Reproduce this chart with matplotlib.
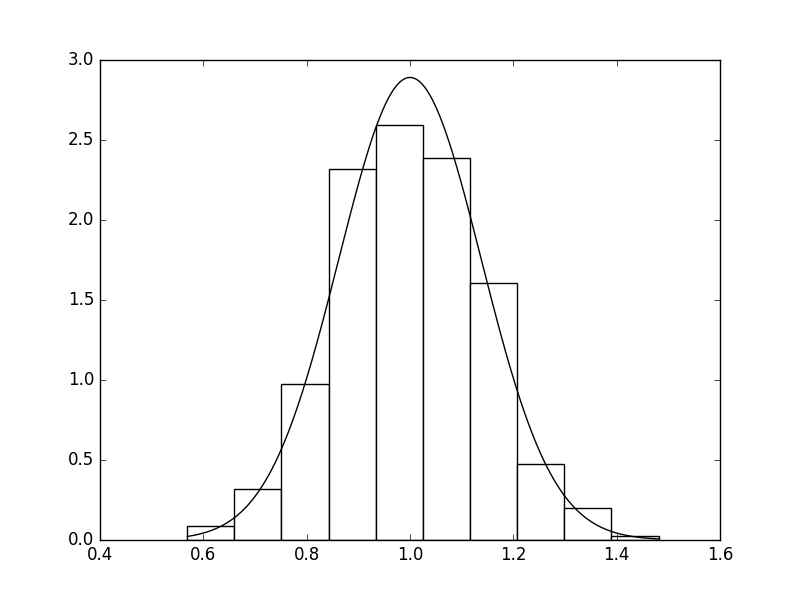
import matplotlib
matplotlib.use('Agg')
import matplotlib.pyplot as plt
import numpy as np

# histogram (density normalised)
bin_edges = [0.569, 0.660, 0.751, 0.843, 0.934, 1.025, 1.116, 1.207, 1.298, 1.390, 1.481]
bin_heights = [0.088, 0.317, 0.975, 2.317, 2.594, 2.388, 1.606, 0.473, 0.198, 0.027]

# fitted normal curve
mu = 1.0
sigma = 0.138

plt.style.use('classic')
fig, ax = plt.subplots(figsize=(8, 6), dpi=100)
fig.patch.set_facecolor('white')

widths = np.diff(bin_edges)
ax.bar(bin_edges[:-1], bin_heights, width=widths, align='edge',
       facecolor='white', edgecolor='black', linewidth=1.0)

x = np.linspace(bin_edges[0], bin_edges[-1], 300)
y = 1.0 / (sigma * np.sqrt(2 * np.pi)) * np.exp(-(x - mu) ** 2 / (2 * sigma ** 2))
ax.plot(x, y, color='black', linewidth=1.0)

ax.set_xlim(0.4, 1.6)
ax.set_ylim(0, 3.0)
ax.set_xticks(np.arange(0.4, 1.61, 0.2))
ax.set_yticks(np.arange(0, 3.01, 0.5))

plt.savefig('out.png', dpi=100, facecolor='white')
